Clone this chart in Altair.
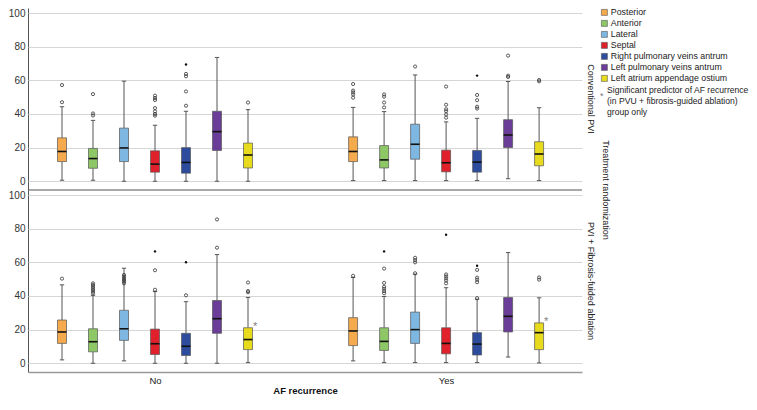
import altair as alt
import pandas as pd

# ---------------- data ----------------
regions = ["Posterior", "Anterior", "Lateral", "Septal",
           "Right pulmonary veins antrum", "Left pulmonary veins antrum",
           "Left atrium appendage ostium"]
colors = ["#F6AA4E", "#8DC766", "#7EB8E2", "#E0212B", "#2D4C9E", "#6A3E98", "#E8DB1D"]
groups = ["No", "Yes"]
group_pos = [0.0, 9.39]
treatments = ["Conventional PVI", "PVI + Fibrosis-fuided ablation"]
y_ticks = [0, 20, 40, 60, 80, 100]

# Conventional PVI, AF recurrence = No
conv_no_lo = [0.6, 0.6, 0.0, 0.0, 0.0, 0.0, 0.0]
conv_no_q1 = [11.7, 7.7, 11.7, 5.4, 4.8, 18.3, 7.9]
conv_no_med = [17.7, 13.5, 19.8, 10.2, 11.2, 29.5, 15.6]
conv_no_q3 = [25.8, 19.5, 31.6, 18.1, 20.0, 41.6, 22.7]
conv_no_hi = [44.3, 36.2, 59.5, 33.3, 41.6, 73.6, 42.6]
conv_no_out = [[47.0, 57.2], [39.1, 40.3, 51.8], [], [39.0, 40.0, 41.5, 43.5, 48.3, 49.5, 50.9],
               [44.9, 53.4, 62.4, 63.8], [], [46.8]]
conv_no_ext = [[], [], [], [], [69.4], [], []]

# Conventional PVI, AF recurrence = Yes
conv_yes_lo = [0.4, 0.4, 0.4, 0.4, 0.4, 1.5, 0.4]
conv_yes_q1 = [11.7, 7.9, 13.1, 5.6, 5.4, 20.0, 9.2]
conv_yes_med = [17.7, 12.7, 22.0, 11.0, 11.4, 27.5, 16.2]
conv_yes_q3 = [26.4, 21.2, 33.9, 18.5, 18.3, 36.6, 23.5]
conv_yes_hi = [43.9, 41.4, 63.2, 35.3, 37.4, 59.3, 43.7]
conv_yes_out = [[49.7, 51.6, 52.8, 53.9, 57.8], [43.9, 46.8, 50.3, 51.6], [68.2],
                [37.8, 39.7, 41.6, 42.8, 45.5, 56.3], [43.2, 44.3, 48.2, 51.3],
                [62.0, 62.8, 74.7], [59.4, 60.2]]
conv_yes_ext = [[], [], [], [], [62.8], [], []]

# PVI + fibrosis-guided ablation, AF recurrence = No
fib_no_lo = [2.0, 0.0, 1.4, 0.0, 0.0, 0.0, 0.4]
fib_no_q1 = [11.8, 6.8, 13.6, 5.2, 4.6, 17.8, 8.1]
fib_no_med = [18.6, 12.8, 20.5, 11.6, 10.1, 26.5, 14.1]
fib_no_q3 = [25.7, 20.5, 31.5, 20.3, 17.8, 37.3, 21.1]
fib_no_hi = [46.6, 40.4, 56.5, 42.6, 36.6, 64.6, 39.1]
fib_no_out = [[50.3], [41.5, 42.5, 43.5, 44.5, 45.5, 46.5, 47.5],
              [47.5, 48.5, 49.5, 50.5, 51.5, 52.5], [43.7, 55.3], [40.4], [68.7, 85.5],
              [42.2, 42.9, 48.0]]
fib_no_ext = [[], [], [], [66.5], [60.0], [], []]

# PVI + fibrosis-guided ablation, AF recurrence = Yes
fib_yes_lo = [1.4, 0.4, 0.4, 0.4, 0.4, 3.7, 0.2]
fib_yes_q1 = [10.5, 7.6, 11.8, 5.6, 4.9, 18.6, 8.1]
fib_yes_med = [19.2, 13.0, 20.0, 11.8, 11.4, 27.9, 18.2]
fib_yes_q3 = [27.1, 21.1, 30.4, 21.1, 18.2, 39.1, 24.0]
fib_yes_hi = [51.0, 39.7, 53.0, 44.9, 38.1, 65.8, 38.9]
fib_yes_out = [[52.0], [41.6, 42.9, 44.3, 45.5, 47.8, 56.3], [53.5, 60.0, 61.3, 62.7],
               [47.5, 49.2, 50.4, 51.6, 52.8], [38.7, 48.2, 49.7, 50.9, 55.5], [],
               [49.7, 51.0]]
fib_yes_ext = [[], [66.5], [], [76.4], [58.0], [], []]

# significant predictor markers (PVI + fibrosis-guided ablation, LAA ostium)
sig_region = "Left atrium appendage ostium"
sig_values = [22.6, 25.7]  # No, Yes

note_lines = ["Significant predictor of AF recurrence",
              "(in PVU + fibrosis-guided ablation)",
              "group only"]

# ---------------- build table ----------------
stats = {
    (treatments[0], groups[0]): (conv_no_lo, conv_no_q1, conv_no_med, conv_no_q3, conv_no_hi, conv_no_out, conv_no_ext),
    (treatments[0], groups[1]): (conv_yes_lo, conv_yes_q1, conv_yes_med, conv_yes_q3, conv_yes_hi, conv_yes_out, conv_yes_ext),
    (treatments[1], groups[0]): (fib_no_lo, fib_no_q1, fib_no_med, fib_no_q3, fib_no_hi, fib_no_out, fib_no_ext),
    (treatments[1], groups[1]): (fib_yes_lo, fib_yes_q1, fib_yes_med, fib_yes_q3, fib_yes_hi, fib_yes_out, fib_yes_ext),
}

rows = []
for (t, g), (lo, q1, med, q3, hi, outs, exts) in stats.items():
    gp = group_pos[groups.index(g)]
    for i, r in enumerate(regions):
        x = gp + (i - 3)
        rows.append(dict(kind="box", treatment=t, group=g, region=r, x=x,
                         lo=lo[i], q1=q1[i], med=med[i], q3=q3[i], hi=hi[i]))
        for v in outs[i]:
            rows.append(dict(kind="out", treatment=t, group=g, region=r, x=x, v=v))
        for v in exts[i]:
            rows.append(dict(kind="ext", treatment=t, group=g, region=r, x=x, v=v))
for g, v in zip(groups, sig_values):
    gp = group_pos[groups.index(g)]
    rows.append(dict(kind="sig", treatment=treatments[1], group=g, region=sig_region,
                     x=gp + regions.index(sig_region) - 3, v=v))
rows.append(dict(kind="frame", treatment=treatments[0]))
rows.append(dict(kind="note", treatment=treatments[0], label="\n".join(note_lines)))

df = pd.DataFrame(rows)

# ---------------- chart ----------------
W, H = 554, 182
FONT = "Liberation Sans"

xscale = alt.Scale(domain=[-4.097, 13.774], nice=False, zero=False)
yscale = alt.Scale(domain=[-5.2, 103], nice=False, zero=False)
xaxis = alt.Axis(values=group_pos,
                 labelExpr=f"datum.value < {group_pos[1] / 2} ? '{groups[0]}' : '{groups[1]}'",
                 ticks=False, grid=False, domainColor="#9a9a9a", domainWidth=1.6,
                 labelFontSize=9.5, labelColor="#222", labelPadding=3,
                 titleFontSize=9.5, titleFontWeight="bold", titleColor="#111", titlePadding=1)
yaxis = alt.Axis(values=y_ticks, ticks=False, grid=True, gridColor="#d6d6d6", gridWidth=1,
                 domainColor="#555", labelFontSize=10, labelColor="#333", labelPadding=3)


def X(f):
    return alt.X(f"{f}:Q", scale=xscale, axis=xaxis, title="AF recurrence")


def Y(f):
    return alt.Y(f"{f}:Q", scale=yscale, axis=yaxis, title=None)


base = alt.Chart()
boxes = base.transform_filter("datum.kind == 'box'").transform_calculate(
    xl="datum.x - 0.145", xr="datum.x + 0.145", xa="datum.x - 0.07", xb="datum.x + 0.07")

whisk_lo = boxes.mark_rule(color="#555", strokeWidth=1).encode(x=X("x"), y=Y("lo"), y2="q1:Q")
whisk_hi = boxes.mark_rule(color="#555", strokeWidth=1).encode(x=X("x"), y=Y("q3"), y2="hi:Q")
cap_lo = boxes.mark_rule(color="#555", strokeWidth=1).encode(x=X("xa"), x2="xb:Q", y=Y("lo"))
cap_hi = boxes.mark_rule(color="#555", strokeWidth=1).encode(x=X("xa"), x2="xb:Q", y=Y("hi"))
rect = boxes.mark_rect(stroke="#555", strokeWidth=0.7).encode(
    x=X("xl"), x2="xr:Q", y=Y("q1"), y2="q3:Q",
    color=alt.Color("region:N", scale=alt.Scale(domain=regions, range=colors),
                    legend=alt.Legend(orient="none", legendX=572, legendY=0, title=None,
                                      symbolType="square", symbolSize=36,
                                      symbolStrokeColor="#555", symbolStrokeWidth=0.6,
                                      labelFontSize=8.8, labelColor="#222", labelFont=FONT,
                                      rowPadding=1, labelOffset=2, padding=0,
                                      labelLimit=300)))
median = boxes.mark_rule(color="#111", strokeWidth=1.6).encode(x=X("xl"), x2="xr:Q", y=Y("med"))

outl = base.transform_filter("datum.kind == 'out'").mark_point(
    shape="circle", filled=False, size=10, color="#333", strokeWidth=0.8, opacity=1
).encode(x=X("x"), y=Y("v"))
ext = base.transform_filter("datum.kind == 'ext'").mark_point(
    shape="circle", filled=True, size=6, color="#111", opacity=1
).encode(x=X("x"), y=Y("v"))
sig = base.transform_filter("datum.kind == 'sig'").mark_text(
    text="*", align="left", baseline="middle", dx=5, dy=2, color="#808080", fill="#808080",
    fontSize=11
).encode(x=X("x"), y=Y("v"))

frame = base.transform_filter("datum.kind == 'frame'").mark_rule(
    color="#555", strokeWidth=1).encode(x=alt.value(0), x2=alt.value(W), y=alt.value(H))

note_star = base.transform_filter("datum.kind == 'note'").mark_text(
    text="*", align="left", baseline="middle", color="#777", fill="#777", fontSize=9, font=FONT
).encode(x=alt.value(572), y=alt.value(88))
note_text = base.transform_filter("datum.kind == 'note'").mark_text(
    align="left", baseline="middle", color="#222", fill="#222", fontSize=8.6, font=FONT,
    lineBreak="\n", lineHeight=11
).encode(x=alt.value(579), y=alt.value(82), text="label:N")

layered = alt.layer(whisk_lo, whisk_hi, cap_lo, cap_hi, rect, median, outl, ext, sig,
                    frame, note_star, note_text).properties(width=W, height=H)

chart = layered.facet(
    data=df,
    row=alt.Row("treatment:N", sort=treatments,
                header=alt.Header(labelOrient="right", labelAngle=90, labelFontSize=9,
                                  labelColor="#222", labelPadding=4, labelFont=FONT,
                                  title="Treatment randomization", titleOrient="right",
                                  titleAngle=90, titleFontSize=9, titleFontWeight="normal",
                                  titleColor="#222", titlePadding=-4, titleFont=FONT)),
    spacing=0,
).properties(bounds="flush", padding=0).configure(font=FONT).configure_view(stroke=None)

chart.save("out.html", embed_options={"renderer": "svg", "actions": False})
